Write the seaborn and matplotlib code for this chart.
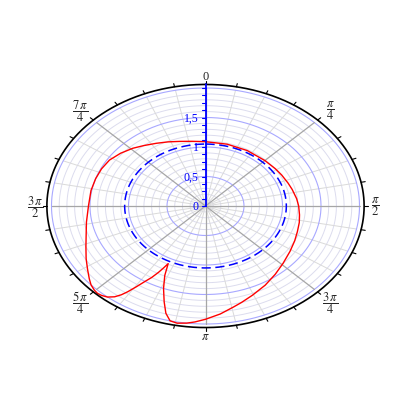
import numpy as np
import pandas as pd
import matplotlib
matplotlib.use('Agg')
import matplotlib.pyplot as plt
import seaborn as sns

# red curve: angle (degrees, clockwise from top) and radius
curve_theta = [0, 15, 30, 45, 55, 62, 70, 76, 84, 90, 97, 103, 110, 117, 125,
               134, 142, 150, 158, 164, 168, 174, 180, 184, 187, 190.5, 193.3,
               195.8, 198.3, 201.3, 204.2, 206.4, 207.5, 208.5, 210, 211.7,
               213.3, 214.8, 216, 217.5, 219.5, 221.7, 223.5, 225.3, 228,
               230.7, 235, 240, 246, 252, 260, 270, 280, 288, 295, 302, 309,
               316, 322, 329, 336, 343, 351, 360]
curve_r = [1.09, 1.085, 1.085, 1.09, 1.105, 1.12, 1.14, 1.16, 1.19, 1.21,
           1.23, 1.25, 1.27, 1.30, 1.34, 1.40, 1.47, 1.55, 1.63, 1.70, 1.75,
           1.84, 1.92, 1.97, 2.0, 2.02, 2.0, 1.89, 1.71, 1.50, 1.29, 1.09,
           1.19, 1.28, 1.40, 1.51, 1.64, 1.77, 1.86, 1.94, 2.0, 2.03, 2.04,
           2.03, 2.0, 1.95, 1.87, 1.79, 1.70, 1.63, 1.57, 1.52, 1.51, 1.50,
           1.49, 1.47, 1.42, 1.36, 1.30, 1.24, 1.19, 1.145, 1.11, 1.09]

# dashed reference circle
dashed_r = 1.05

# radial axis
r_major = [0.5, 1.0, 1.5, 2.0]
r_labels = ['0', '0,5', '1', '1,5']
r_label_pos = [0.0, 0.5, 1.0, 1.5]
r_outer = 2.06

# angular labels
ang_deg = [0, 45, 90, 135, 180, 225, 270, 315]
ang_labels = ['0', r'$\dfrac{\pi}{4}$', r'$\dfrac{\pi}{2}$', r'$\dfrac{3\,\pi}{4}$',
              r'$\pi$', r'$\dfrac{5\,\pi}{4}$', r'$\dfrac{3\,\pi}{2}$',
              r'$\dfrac{7\,\pi}{4}$']


def to_xy(theta_deg, r):
    t = np.radians(np.asarray(theta_deg, dtype=float))
    return np.asarray(r) * np.sin(t), np.asarray(r) * np.cos(t)


sns.set_theme(style='white')
plt.rcParams['font.family'] = ['Liberation Serif', 'DejaVu Serif']
plt.rcParams['mathtext.fontset'] = 'stix'

fig = plt.figure(figsize=(4.14, 4.14), dpi=100)
ax = fig.add_axes([0, 0, 1, 1])
# 77 px per unit horizontally, 59 px per unit vertically -> elliptical look
ax.set_xlim(-205.5 / 77, 208.5 / 77)
ax.set_ylim(-207 / 59, 207 / 59)
ax.axis('off')

full = np.linspace(0, 360, 721)

# minor circles every 0.1
for r in np.arange(1, 20) / 10:
    if round(r * 10) % 5 == 0:
        continue
    x, y = to_xy(full, r)
    ax.plot(x, y, color='#dcdcee', lw=0.7, zorder=1)

# spokes every pi/16
for k in range(32):
    x, y = to_xy([k * 11.25] * 2, [0, 2.0])
    major = k % 4 == 0
    ax.plot(x, y, color='#a6a6a6' if major else '#dadada',
            lw=0.9 if major else 0.7, zorder=3 if major else 1)

# major circles
for r in r_major:
    x, y = to_xy(full, r)
    ax.plot(x, y, color='#a8a8ff', lw=0.8, zorder=2)

# dashed circle
x, y = to_xy(full, [dashed_r] * len(full))
sns.lineplot(x=x, y=y, sort=False, estimator=None, color='#0000ff', lw=1.1,
             ax=ax, zorder=4)
ax.lines[-1].set_dashes([6, 3])

# red curve
x, y = to_xy(curve_theta, curve_r)
df = pd.DataFrame({'x': x, 'y': y})
sns.lineplot(data=df, x='x', y='y', sort=False, estimator=None, color='#ff0000',
             lw=1.0, ax=ax, zorder=5)

# outer border with outward ticks
x, y = to_xy(full, r_outer)
ax.plot(x, y, color='black', lw=1.2, zorder=6)
for k in range(32):
    x, y = to_xy([k * 11.25] * 2, [r_outer, r_outer + 0.055])
    ax.plot(x, y, color='black', lw=0.8, zorder=6)

# radial axis along 0
ax.plot([0, 0], [0, r_outer], color='#0000ff', lw=1.3, zorder=7)
for i in range(0, 17):
    r = i / 8
    ax.plot([-0.05, 0], [r, r], color='#0000ff', lw=0.8, zorder=7)
for lab, r in zip(r_labels, r_label_pos):
    ax.text(-0.09, r, lab, color='#0000ff', fontsize=8.5, ha='right',
            va='center', zorder=8)

# angular labels
for deg, lab in zip(ang_deg, ang_labels):
    rl = 2.3 if deg % 90 else 2.21
    x, y = to_xy(deg, rl)
    ax.text(x, y, lab, fontsize=9, ha='center', va='center', zorder=8)

fig.savefig('out.png', dpi=100)
